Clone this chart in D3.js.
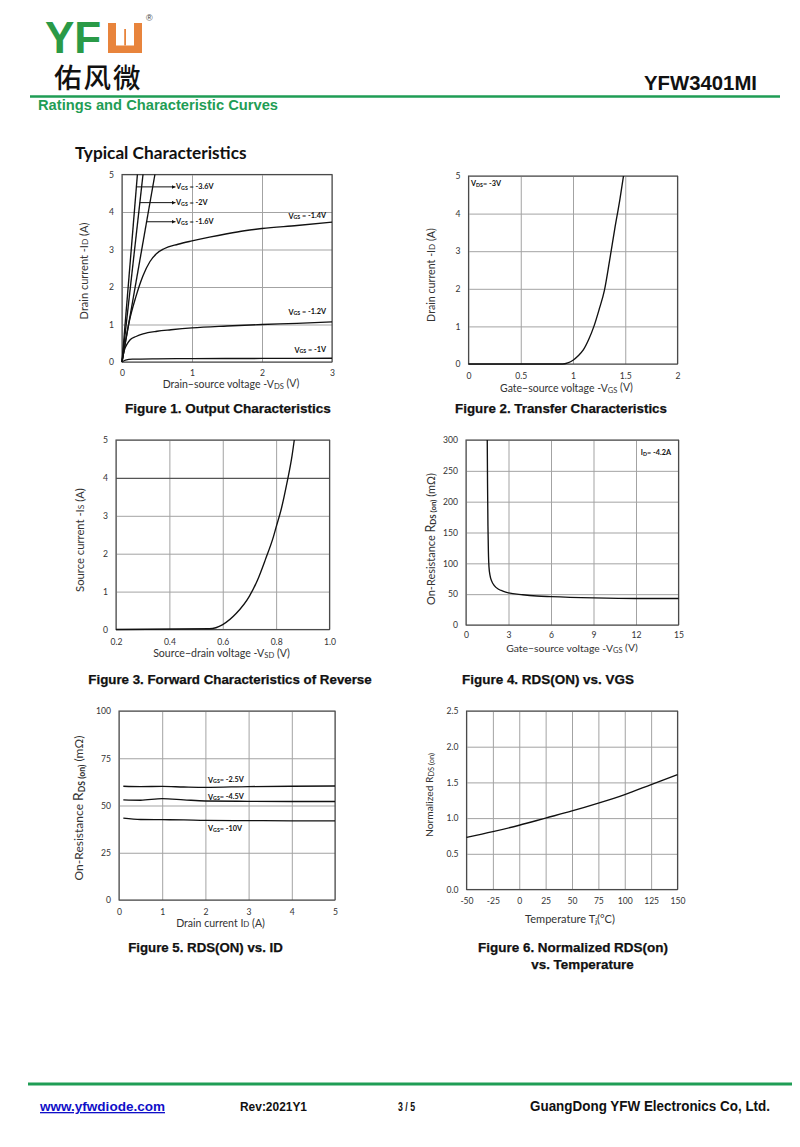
<!DOCTYPE html>
<html><head><meta charset="utf-8">
<script src="https://cdn.jsdelivr.net/npm/d3@7"></script>
<style>body{margin:0;background:#fff}svg{display:block}</style>
</head><body>
<svg id="page" width="800" height="1147"></svg>
<script>
// ---------- DATA ----------
// Figure 1: Output characteristics (-VDS [V], -ID [A])
const fig1_vgs_1V   = [[0,0],[0.05,0.05],[0.15,0.075],[0.5,0.085],[1,0.09],[2,0.095],[3,0.1]];
const fig1_vgs_1p2V = [[0,0],[0.03,0.3],[0.07,0.47],[0.12,0.6],[0.2,0.68],[0.3,0.75],[0.5,0.82],[0.7,0.86],[1,0.91],[1.5,0.96],[2,1.0],[2.5,1.03],[3,1.07]];
const fig1_vgs_1p4V = [[0,0],[0.05,0.55],[0.1,1.05],[0.2,1.75],[0.3,2.3],[0.4,2.68],[0.5,2.9],[0.6,3.02],[0.8,3.14],[1,3.23],[1.25,3.33],[1.5,3.42],[1.75,3.5],[2,3.56],[2.5,3.64],[3,3.73]];
const fig1_vgs_1p6V = [[0,0],[0.47,5]];
const fig1_vgs_2V   = [[0,0],[0.3,5]];
const fig1_vgs_3p6V = [[0,0],[0.22,5]];
const fig1_xTicks = [0,1,2,3];
const fig1_yTicks = [0,1,2,3,4,5];

// Figure 2: Transfer characteristics (-VGS [V], -ID [A]), VDS=-3V
const fig2_vgs = [0,0.5,0.9,0.95,1.0,1.05,1.1,1.15,1.2,1.25,1.3,1.35,1.4,1.45,1.483];
const fig2_id  = [0,0,0,0.03,0.1,0.22,0.38,0.65,1.0,1.45,1.95,2.75,3.6,4.4,5.0];
const fig2_xTicks = [0,0.5,1,1.5,2];
const fig2_yTicks = [0,1,2,3,4,5];

// Figure 3: Forward characteristics of reverse diode (-VSD [V], -IS [A])
const fig3_vsd = [0.2,0.55,0.6,0.65,0.7,0.73,0.76,0.79,0.8,0.82,0.84,0.86,0.868];
const fig3_is  = [0,0.02,0.13,0.42,0.88,1.3,1.85,2.45,2.7,3.2,3.85,4.6,5.0];
const fig3_xTicks = [0.2,0.4,0.6,0.8,1.0];
const fig3_yTicks = [0,1,2,3,4,5];

// Figure 4: RDS(on) vs VGS (-VGS [V], mΩ), ID=-4.2A
const fig4_vgs = [1.5,1.52,1.55,1.58,1.62,1.7,1.8,2.0,2.3,2.6,3,4,5,6,9,12,15];
const fig4_rds = [300,230,160,120,95,80,72,64,58,55,52,49,47,46,44,43,43];
const fig4_xTicks = [0,3,6,9,12,15];
const fig4_yTicks = [0,50,100,150,200,250,300];

// Figure 5: RDS(on) vs ID (A, mΩ)
const fig5_id        = [0.1,0.5,1,1.5,2,3,4,5];
const fig5_vgs_2p5V  = [60.2,60.0,60.1,59.8,59.6,60.0,60.2,60.3];
const fig5_vgs_4p5V  = [53.0,52.8,53.6,53.0,52.4,52.2,52.1,52.1];
const fig5_vgs_10V   = [43.3,42.6,42.5,42.4,42.1,42.0,41.9,41.9];
const fig5_xTicks = [0,1,2,3,4,5];
const fig5_yTicks = [0,25,50,75,100];

// Figure 6: Normalized RDS(on) vs temperature
const fig6_temp = [-50,-25,0,25,50,75,100,125,150];
const fig6_norm = [0.73,0.81,0.90,1.0,1.1,1.21,1.33,1.47,1.61];
const fig6_xTicks = [-50,-25,0,25,50,75,100,125,150];
const fig6_yTicks = [0,0.5,1.0,1.5,2.0,2.5];

// ---------- DRAWING ----------
const svg = d3.select('#page');
svg.append('rect').attr('width',800).attr('height',1147).attr('fill','#fff');
const GREEN = '#1f9d55', LOGO_GREEN = '#2a9a47', ORANGE = '#e8843c';
const CH_FONT = 'Lato, "Open Sans", sans-serif';
const AR_FONT = '"Liberation Sans", Arial, sans-serif';

function fitWidth(t, w){
  const bw = t.node().getBBox().width;
  const fs = parseFloat(t.attr('font-size'));
  t.attr('font-size', (fs*w/bw).toFixed(2));
}

function rich(parent, x, y, parts, opts){
  const t = parent.append('text').attr('x',x).attr('y',y)
    .attr('font-family', opts.font || CH_FONT).attr('font-size', opts.size)
    .attr('fill', opts.fill || '#333').attr('text-anchor', opts.anchor || 'middle')
    .attr('font-weight', opts.weight || 'normal');
  if (opts.rotate) t.attr('transform', `rotate(-90,${x},${y})`);
  parts.forEach(p => {
    const s = t.append('tspan').text(p.t);
    if (p.sub) s.attr('font-size','0.72em').attr('dy', p.dy!=null? p.dy : '0.18em');
    else if (p.small) s.attr('font-size','0.75em');
    if (p.back) s.attr('dy', p.back);
    if (p.bold) s.attr('font-weight','bold');
    if (p.big) s.attr('font-size','1.15em');
  });
  if (opts.width) fitWidth(t, opts.width);
  if (opts.squeeze) t.attr('textLength', opts.squeeze).attr('lengthAdjust','spacingAndGlyphs');
  return t;
}

function chart(c){
  const g = svg.append('g');
  const x = d3.scaleLinear().domain(c.xDomain).range([c.left, c.right]);
  const y = d3.scaleLinear().domain(c.yDomain).range([c.bottom, c.top]);
  const xa = g.append('g').attr('transform',`translate(0,${c.bottom})`)
    .call(d3.axisBottom(x).tickValues(c.xTicks).tickFormat(c.xFmt).tickSize(-(c.bottom-c.top)).tickPadding(c.xPad||8));
  const ya = g.append('g').attr('transform',`translate(${c.left},0)`)
    .call(d3.axisLeft(y).tickValues(c.yTicks).tickFormat(c.yFmt).tickSize(-(c.right-c.left)).tickPadding(c.yPad||8));
  [xa,ya].forEach(a=>{
    a.select('.domain').remove();
    a.selectAll('line').attr('stroke','#a3a3a3').attr('stroke-width',1);
    a.selectAll('text').attr('font-family',CH_FONT).attr('font-size',8.6).attr('fill','#333');
  });
  if (c.boldY!=null){
    ya.selectAll('.tick').filter(d=>d===c.boldY).select('line').attr('stroke','#555').attr('stroke-width',1.4);
  }
  g.append('rect').attr('x',c.left).attr('y',c.top).attr('width',c.right-c.left).attr('height',c.bottom-c.top)
    .attr('fill','none').attr('stroke','#4a4a4a').attr('stroke-width',1.1);
  const line = d3.line().x(d=>x(d[0])).y(d=>y(d[1])).curve(d3.curveMonotoneX);
  const straight = d3.line().x(d=>x(d[0])).y(d=>y(d[1]));
  c.series.forEach(s=>{
    g.append('path').attr('d', (s.straight?straight:line)(s.data)).attr('fill','none')
      .attr('stroke','#111').attr('stroke-width',1.35);
  });
  return {g,x,y};
}
const zip = (a,b)=>a.map((v,i)=>[v,b[i]]);
const f0 = d3.format('d'), f1 = d3.format('.1f');
const fAuto = d=>String(d);

// ---------- Header ----------
svg.append('text').attr('x',45).attr('y',53).attr('font-family',AR_FONT).attr('font-weight','bold')
  .attr('font-size',44).attr('fill',LOGO_GREEN).text('YF');
svg.append('path').attr('fill',ORANGE)
  .attr('d','M108,23 H116 V45.5 H134 V23 H142 V53 H108 Z');
svg.append('rect').attr('x',124.2).attr('y',29).attr('width',1.8).attr('height',16.5).attr('fill',ORANGE);
svg.append('text').attr('x',146).attr('y',21).attr('font-family',AR_FONT).attr('font-size',9).attr('fill','#444').text('®');
svg.append('text').attr('x',54).attr('y',87.5).attr('font-family','"Noto Sans CJK SC", sans-serif').attr('font-weight',500)
  .attr('font-size',27.5).attr('letter-spacing',2).attr('fill','#111').text('佑风微');
svg.append('line').attr('x1',30).attr('x2',780).attr('y1',96.5).attr('y2',96.5).attr('stroke',GREEN).attr('stroke-width',2.4);
rich(svg,644,90,[{t:'YFW3401MI'}],{font:AR_FONT,size:20.5,weight:'bold',fill:'#111',anchor:'start',width:113});
rich(svg,38,110,[{t:'Ratings and Characteristic Curves'}],{font:AR_FONT,size:14.5,weight:'bold',fill:GREEN,anchor:'start',width:240});
rich(svg,75,159,[{t:'Typical Characteristics'}],{font:CH_FONT,size:17.5,weight:'bold',fill:'#111',anchor:'start',width:172});

// ---------- Figure 1 ----------
const c1 = chart({left:122,right:332,top:174.5,bottom:362,xDomain:[0,3],yDomain:[0,5],
  xTicks:fig1_xTicks,yTicks:fig1_yTicks,xFmt:f0,yFmt:f0,
  series:[{data:fig1_vgs_1V},{data:fig1_vgs_1p2V},{data:fig1_vgs_1p4V},
    {data:fig1_vgs_1p6V,straight:true},{data:fig1_vgs_2V,straight:true},{data:fig1_vgs_3p6V,straight:true}]});
svg.append('defs').append('marker').attr('id','arr').attr('viewBox','0 0 6 6').attr('refX',6).attr('refY',3)
  .attr('markerWidth',4).attr('markerHeight',4).attr('orient','auto')
  .append('path').attr('d','M0,0 L6,3 L0,6 Z').attr('fill','#111');
const fig1_arrows = [
  {line:fig1_vgs_3p6V, y:4.67, label:' = -3.6V'},
  {line:fig1_vgs_2V,   y:4.25, label:' = -2V'},
  {line:fig1_vgs_1p6V, y:3.74, label:' = -1.6V'}];
fig1_arrows.forEach(a=>{
  const xs = a.line[1][0]*a.y/a.line[1][1];
  const yy = c1.y(a.y);
  svg.append('line').attr('x1',c1.x(xs)).attr('x2',175.5).attr('y1',yy).attr('y2',yy)
    .attr('stroke','#111').attr('stroke-width',1).attr('marker-end','url(#arr)');
  rich(svg,176,yy+2.5,[{t:'V'},{t:'GS',sub:true,dy:'0.1em'},{t:a.label,back:'-0.1em'}],{size:7.3,weight:'bold',fill:'#111',anchor:'start'});
});
[['-1.4V',218.5],['-1.2V',314.5],['-1V',352.5]].forEach(([v,yy])=>{
  rich(svg,326,yy,[{t:'V'},{t:'GS',sub:true,dy:'0.1em'},{t:' = '+v,back:'-0.1em'}],{size:7.3,weight:'bold',fill:'#111',anchor:'end'});
});
rich(svg,231,387.5,[{t:'Drain\u2212source voltage -V'},{t:'DS',sub:true},{t:' (V)',back:'-0.13em'}],{size:10.5,width:137});
rich(svg,87.5,271,[{t:'Drain current -I'},{t:'D',small:true},{t:' (A)'}],{size:10.5,rotate:true,width:97});

// ---------- Figure 2 ----------
chart({left:468.5,right:677.5,top:176,bottom:364,xDomain:[0,2],yDomain:[0,5],
  xTicks:fig2_xTicks,yTicks:fig2_yTicks,xFmt:fAuto,yFmt:f0,xPad:9,
  series:[{data:zip(fig2_vgs,fig2_id)}]});
rich(svg,471,186,[{t:'V'},{t:'DS',sub:true,dy:'0.1em'},{t:'= -3V',back:'-0.1em'}],{size:7.3,weight:'bold',fill:'#111',anchor:'start'});
rich(svg,566.5,391.5,[{t:'Gate\u2212source voltage -V'},{t:'GS',sub:true},{t:' (V)',back:'-0.13em'}],{size:10.5,width:133});
rich(svg,435,275,[{t:'Drain current -I'},{t:'D',small:true},{t:' (A)'}],{size:10.5,rotate:true,width:94});

// ---------- Figure 3 ----------
chart({left:116,right:329.5,top:440,bottom:629.5,xDomain:[0.2,1.0],yDomain:[0,5],
  xTicks:fig3_xTicks,yTicks:fig3_yTicks,xFmt:f1,yFmt:f0,xPad:9,boldY:4,
  series:[{data:zip(fig3_vsd,fig3_is)}]});
rich(svg,221.5,657,[{t:'Source\u2212drain voltage -V'},{t:'SD',sub:true},{t:' (V)',back:'-0.13em'}],{size:10.5,width:137});
rich(svg,83.5,540,[{t:'Source current -I'},{t:'S',small:true},{t:' (A)'}],{size:10.5,rotate:true,width:104});

// ---------- Figure 4 ----------
chart({left:466,right:678.5,top:440,bottom:625,xDomain:[0,15],yDomain:[0,300],
  xTicks:fig4_xTicks,yTicks:fig4_yTicks,xFmt:f0,yFmt:f0,xPad:7,
  series:[{data:zip(fig4_vgs,fig4_rds)}]});
rich(svg,671,455,[{t:'I'},{t:'D',sub:true,dy:'0.1em'},{t:'= -4.2A',back:'-0.1em'}],{size:7.3,weight:'bold',fill:'#111',anchor:'end'});
rich(svg,572,651.5,[{t:'Gate\u2212source voltage -V'},{t:'GS',sub:true},{t:' (V)',back:'-0.13em'}],{size:10.5,width:132});
rich(svg,435,539,[{t:'On-Resistance  '},{t:'R',big:true},{t:'DS (on)',sub:true,bold:true},{t:' (m\u03A9)',back:'-0.13em'}],{size:10.5,rotate:true,width:132});

// ---------- Figure 5 ----------
chart({left:119,right:335,top:711,bottom:900,xDomain:[0,5],yDomain:[0,100],
  xTicks:fig5_xTicks,yTicks:fig5_yTicks,xFmt:f0,yFmt:f0,xPad:9,
  series:[{data:zip(fig5_id,fig5_vgs_2p5V)},{data:zip(fig5_id,fig5_vgs_4p5V)},{data:zip(fig5_id,fig5_vgs_10V)}]});
[['-2.5V',782.5],['-4.5V',799.5],['-10V',831]].forEach(([v,yy])=>{
  rich(svg,208,yy,[{t:'V'},{t:'GS',sub:true,dy:'0.1em'},{t:'= '+v,back:'-0.1em'}],{size:7.3,weight:'bold',fill:'#111',anchor:'start'});
});
rich(svg,220.5,927,[{t:'Drain current I'},{t:'D',small:true},{t:' (A)'}],{size:10.5,width:89});
rich(svg,83,808,[{t:'On-Resistance  '},{t:'R',big:true},{t:'DS (on)',sub:true,bold:true},{t:' (m\u03A9)',back:'-0.13em'}],{size:10.5,rotate:true,width:145});

// ---------- Figure 6 ----------
chart({left:466.5,right:677.5,top:711,bottom:889.5,xDomain:[-50,150],yDomain:[0,2.5],
  xTicks:fig6_xTicks,yTicks:fig6_yTicks,xFmt:fAuto,yFmt:f1,xPad:8,
  series:[{data:zip(fig6_temp,fig6_norm)}]});
rich(svg,570,923,[{t:'Temperature T'},{t:'j',sub:true},{t:'(\u00B0C)',back:'-0.13em'}],{size:10.5,width:90});
rich(svg,433,795,[{t:'Normalized R'},{t:'DS (on)',sub:true}],{size:10.5,rotate:true,width:84});

// ---------- Captions ----------
const caps = [
  ['Figure 1. Output Characteristics',228,413,206],
  ['Figure 2. Transfer Characteristics',561,413,212],
  ['Figure 3. Forward Characteristics of Reverse',230,684,284],
  ['Figure 4. RDS(ON) vs. VGS',548,684,172],
  ['Figure 5. RDS(ON) vs. ID',205.5,952,155],
  ['Figure 6. Normalized RDS(on)',573,952,190],
  ['vs. Temperature',582.5,969,103]];
caps.forEach(([t,x,y,w])=>{
  rich(svg,x,y,[{t}],{font:AR_FONT,size:13.5,weight:'bold',fill:'#111',width:w})
    .attr('stroke','#111').attr('stroke-width',0.25);
});

// ---------- Footer ----------
svg.append('line').attr('x1',28).attr('x2',792).attr('y1',1084).attr('y2',1084).attr('stroke',GREEN).attr('stroke-width',3);
rich(svg,40,1111,[{t:'www.yfwdiode.com'}],{font:AR_FONT,size:13,weight:'bold',fill:'#1010c8',anchor:'start',squeeze:125})
  .attr('text-decoration','underline');
rich(svg,240,1111,[{t:'Rev:2021Y1'}],{font:AR_FONT,size:13,weight:'bold',fill:'#111',anchor:'start',squeeze:67});
rich(svg,398,1111,[{t:'3 / 5'}],{font:AR_FONT,size:13,weight:'bold',fill:'#111',anchor:'start',squeeze:17});
rich(svg,530,1111,[{t:'GuangDong YFW Electronics Co, Ltd.'}],{font:AR_FONT,size:14,weight:'bold',fill:'#111',anchor:'start',squeeze:240});
</script>
</body></html>
